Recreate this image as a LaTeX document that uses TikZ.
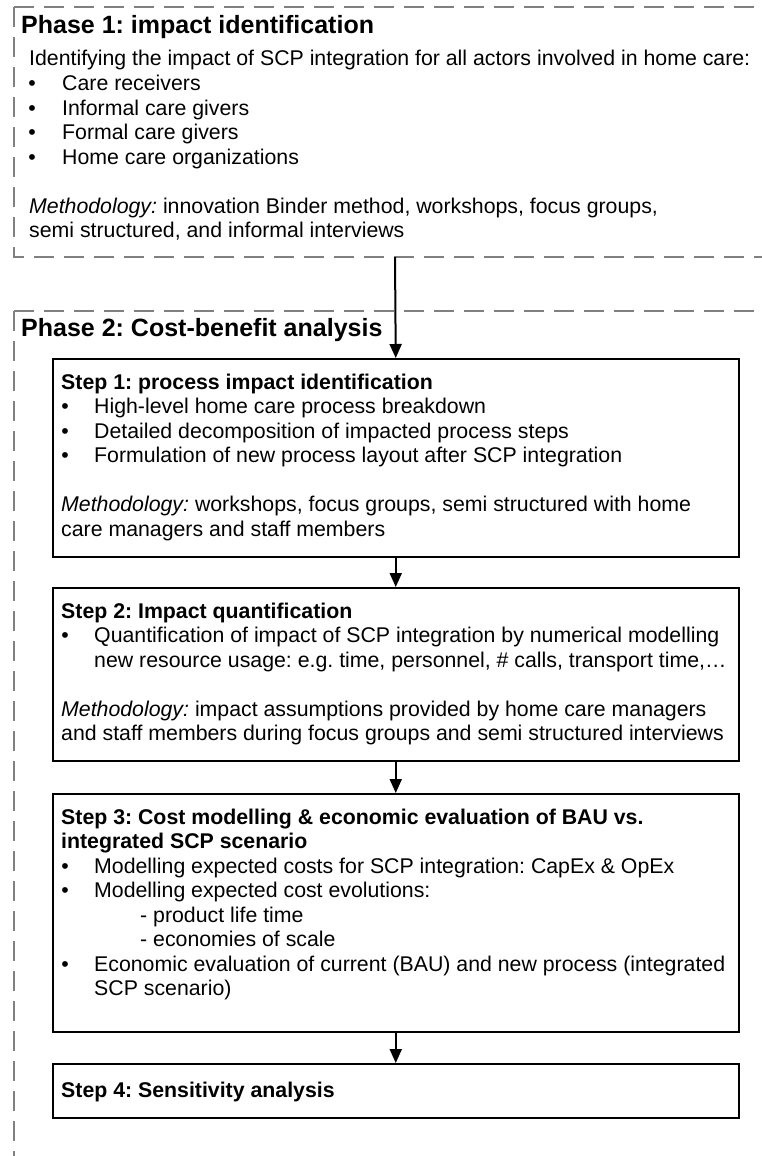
\documentclass[tikz,border=0pt]{standalone}
\usepackage{fontspec}
\setmainfont{Liberation Sans}
\usetikzlibrary{arrows.meta}
\frenchspacing
\begin{document}
\begin{tikzpicture}[x=1pt,y=-1pt,
  txt/.style={anchor=base west, inner sep=0pt, font=\fontsize{21.3}{24.5}\selectfont},
  ttl/.style={anchor=base west, inner sep=0pt, font=\fontsize{21.3}{24.5}\selectfont\bfseries},
  phttl/.style={anchor=base west, inner sep=0pt, font=\fontsize{25}{29}\selectfont\bfseries},
  bul/.style={anchor=base, inner sep=0pt, font=\fontsize{21.3}{24.5}\selectfont},
  stepbox/.style={draw=black, line width=1.5pt, anchor=north west, inner sep=0pt, fill=white},
  phase/.style={draw=black!50, line width=2pt, dash pattern=on 20pt off 10pt},
  arr/.style={-{Triangle[width=12pt,length=14pt]}, line width=2pt}
]
\useasboundingbox (0,0) rectangle (762,1156);
\fill[white] (0,0) rectangle (762,1156);

% Phase 1 frame
\draw[phase] (14,7) -- (762,7);
\draw[phase] (14,7) -- (14,257) -- (762,257);
\coordinate (p1bottom) at (395,257);

\node[phttl] (p1t) at (21,34) {Phase 1: impact identification};
\node[txt] (p1i) at (29,66) {Identifying the impact of SCP integration for all actors involved in home care:};
\node[bul] (p1b1) at (32,90.5) {•};
\node[txt] (p1l1) at (62,90.5) {Care receivers};
\node[bul] (p1b2) at (32,115) {•};
\node[txt] (p1l2) at (62,115) {Informal care givers};
\node[bul] (p1b3) at (32,139.5) {•};
\node[txt] (p1l3) at (62,139.5) {Formal care givers};
\node[bul] (p1b4) at (32,164) {•};
\node[txt] (p1l4) at (62,164) {Home care organizations};
\node[txt] (p1m1) at (29,213) {\textit{Methodology:} innovation Binder method, workshops, focus groups,};
\node[txt] (p1m2) at (29,237.5) {semi structured, and informal interviews};

% Phase 2 frame
\draw[phase] (14,311) -- (762,311);
\draw[phase] (14,311) -- (14,1170);
\node[phttl] (p2t) at (21,336) {Phase 2: Cost-benefit analysis};

% Step boxes
\node[stepbox, minimum width=686pt, minimum height=198pt] (s1) at (52,358) {};
\node[stepbox, minimum width=686pt, minimum height=173pt] (s2) at (52,587) {};
\node[stepbox, minimum width=686pt, minimum height=238pt] (s3) at (52,793) {};
\node[stepbox, minimum width=686pt, minimum height=54pt] (s4) at (52,1063) {};

% Step 1
\node[ttl] (s1t) at (61,389) {Step 1: process impact identification};
\node[bul] (s1b1) at (65,413.5) {•};
\node[txt] (s1l1) at (94,413.5) {High-level home care process breakdown};
\node[bul] (s1b2) at (65,438) {•};
\node[txt] (s1l2) at (94,438) {Detailed decomposition of impacted process steps};
\node[bul] (s1b3) at (65,462.5) {•};
\node[txt] (s1l3) at (94,462.5) {Formulation of new process layout after SCP integration};
\node[txt] (s1m1) at (61,511.5) {\textit{Methodology:} workshops, focus groups, semi structured with home};
\node[txt] (s1m2) at (61,536) {care managers and staff members};

% Step 2
\node[ttl] (s2t) at (61,618) {Step 2: Impact quantification};
\node[bul] (s2b1) at (65,642.5) {•};
\node[txt] (s2l1) at (94,642.5) {Quantification of impact of SCP integration by numerical modelling};
\node[txt] (s2l2) at (94,667) {new resource usage: e.g. time, personnel, \# calls, transport time,…};
\node[txt] (s2m1) at (61,716) {\textit{Methodology:} impact assumptions provided by home care managers};
\node[txt] (s2m2) at (61,740.5) {and staff members during focus groups and semi structured interviews};

% Step 3
\node[ttl] (s3t1) at (61,824) {Step 3: Cost modelling \& economic evaluation of BAU vs.};
\node[ttl] (s3t2) at (61,848.5) {integrated SCP scenario};
\node[bul] (s3b1) at (65,873) {•};
\node[txt] (s3l1) at (94,873) {Modelling expected costs for SCP integration: CapEx \& OpEx};
\node[bul] (s3b2) at (65,897.5) {•};
\node[txt] (s3l2) at (94,897.5) {Modelling expected cost evolutions:};
\node[txt] (s3l3) at (140,922) {- product life time};
\node[txt] (s3l4) at (140,946.5) {- economies of scale};
\node[bul] (s3b3) at (65,971) {•};
\node[txt] (s3l5) at (94,971) {Economic evaluation of current (BAU) and new process (integrated};
\node[txt] (s3l6) at (94,995.5) {SCP scenario)};

% Step 4
\node[ttl] (s4t) at (61,1097) {Step 4: Sensitivity analysis};

% Connectors
\draw[arr] (p1bottom) -- (s1.north);
\draw[arr] (s1.south) -- (s2.north);
\draw[arr] (s2.south) -- (s3.north);
\draw[arr] (s3.south) -- (s4.north);
\end{tikzpicture}
\end{document}
